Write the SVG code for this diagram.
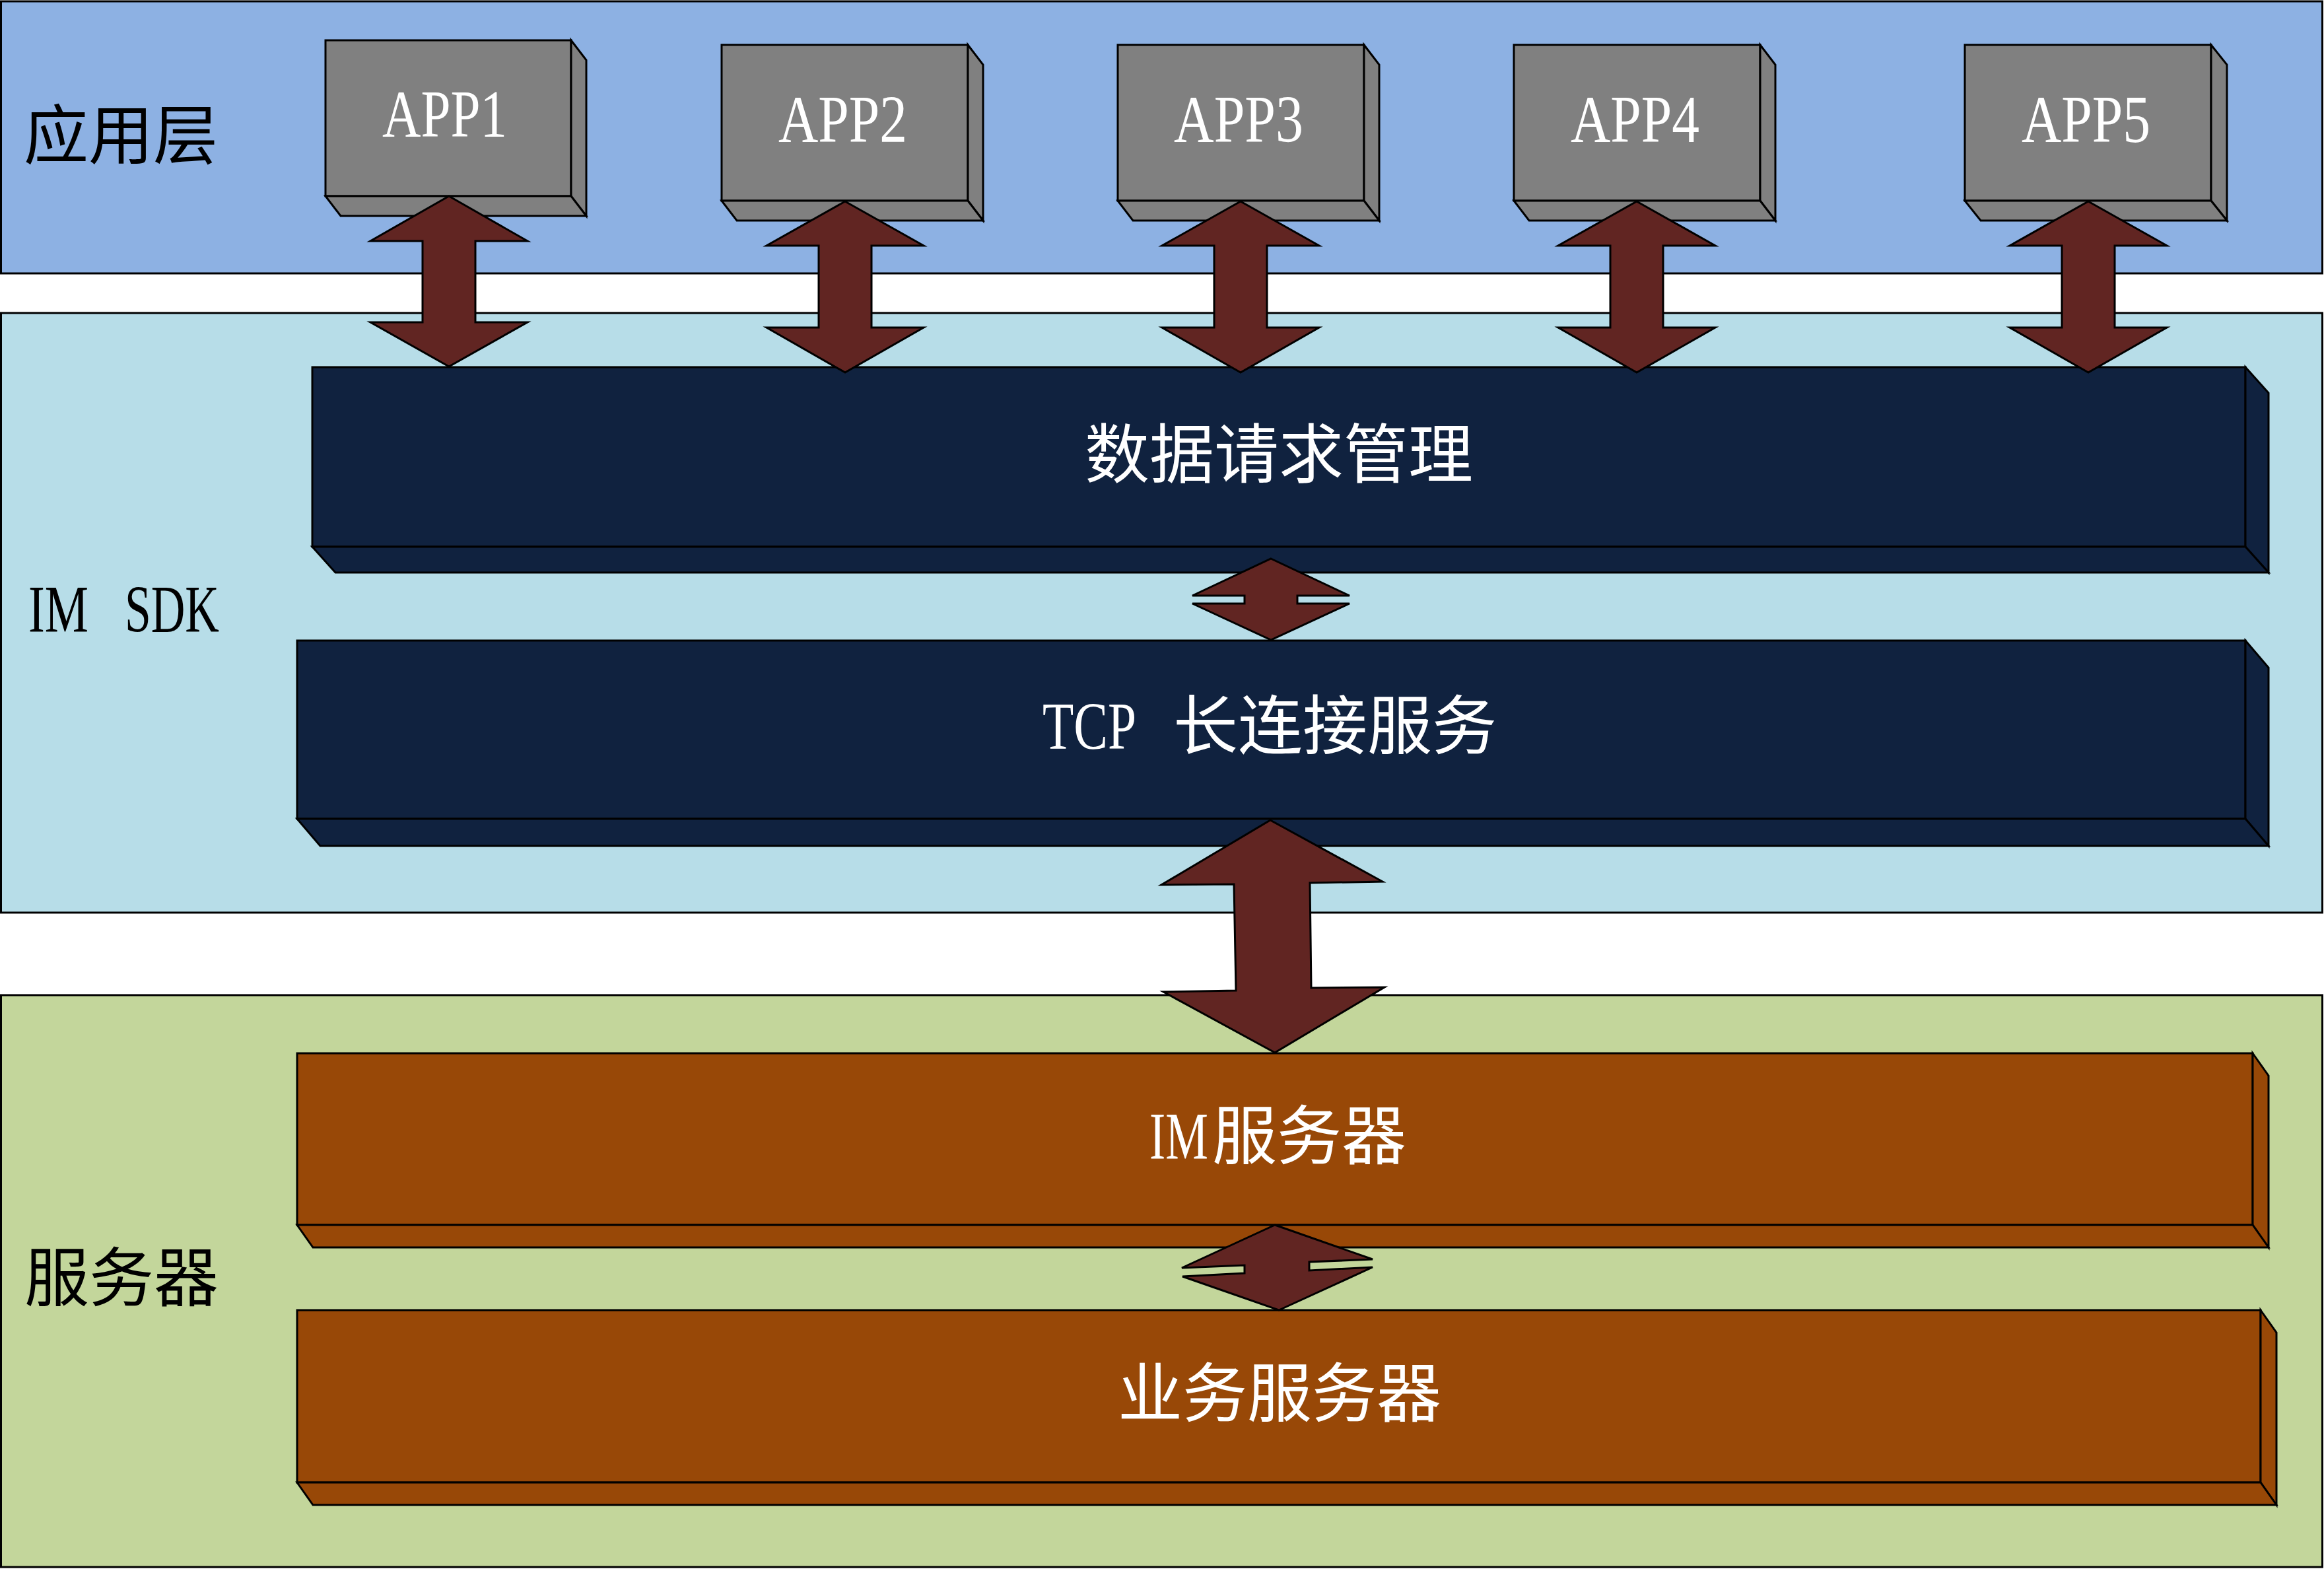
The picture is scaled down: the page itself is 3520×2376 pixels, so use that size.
<svg xmlns="http://www.w3.org/2000/svg" width="3520" height="2376" viewBox="0 0 3520 2376">
<style>
.layer{stroke:#000;stroke-width:3}
.bx{stroke:#000;stroke-width:3;stroke-linejoin:miter}
.gray{fill:#808080}
.navy{fill:#10223F}
.org{fill:#984807}
.arw{fill:#612522;stroke:#000;stroke-width:3;stroke-linejoin:miter}
.t{font-family:"Liberation Serif","Noto Sans CJK SC",serif;font-size:101px}
.c{font-family:"Noto Sans CJK SC","Liberation Serif",sans-serif;font-size:98px}
.w{fill:#fff}
.k{fill:#000}
</style>
<rect width="3520" height="2376" fill="#fff"/>
<g id="layer-app">
<rect class="layer" x="1.5" y="2" width="3516" height="412" fill="#8DB1E3"/>
<text class="c k" x="183" y="240" text-anchor="middle">应用层</text>
</g>
<g id="layer-sdk">
<rect class="layer" x="1.5" y="474" width="3516" height="908" fill="#B7DDE8"/>
<text class="t k" x="43" y="957"><tspan textLength="91" lengthAdjust="spacingAndGlyphs">IM</tspan><tspan x="189" textLength="143" lengthAdjust="spacingAndGlyphs">SDK</tspan></text>
</g>
<g id="layer-server">
<rect class="layer" x="1.5" y="1507" width="3516" height="866" fill="#C3D69B"/>
<text class="c k" x="184" y="1970" text-anchor="middle">服务器</text>
</g>
<g id="app1" class="bx gray">
<rect x="493" y="61" width="372" height="236"/>
<polygon points="865,61 888,91 888,327 865,297"/>
<polygon points="493,297 865,297 888,327 516,327"/>
<text class="t w" stroke="none" x="579" y="207" textLength="189" lengthAdjust="spacingAndGlyphs">APP1</text>
</g>
<g id="app2" class="bx gray">
<rect x="1093" y="68" width="373" height="236"/>
<polygon points="1466,68 1489,98 1489,334 1466,304"/>
<polygon points="1093,304 1466,304 1489,334 1116,334"/>
<text class="t w" stroke="none" x="1179" y="215" textLength="195" lengthAdjust="spacingAndGlyphs">APP2</text>
</g>
<g id="app3" class="bx gray">
<rect x="1693" y="68" width="373" height="236"/>
<polygon points="2066,68 2089,98 2089,334 2066,304"/>
<polygon points="1693,304 2066,304 2089,334 1716,334"/>
<text class="t w" stroke="none" x="1778" y="215" textLength="196" lengthAdjust="spacingAndGlyphs">APP3</text>
</g>
<g id="app4" class="bx gray">
<rect x="2293" y="68" width="373" height="236"/>
<polygon points="2666,68 2689,98 2689,334 2666,304"/>
<polygon points="2293,304 2666,304 2689,334 2316,334"/>
<text class="t w" stroke="none" x="2379" y="215" textLength="195" lengthAdjust="spacingAndGlyphs">APP4</text>
</g>
<g id="app5" class="bx gray">
<rect x="2976" y="68" width="373" height="236"/>
<polygon points="3349,68 3373,98 3373,334 3349,304"/>
<polygon points="2976,304 3349,304 3373,334 3000,334"/>
<text class="t w" stroke="none" x="3062" y="215" textLength="195" lengthAdjust="spacingAndGlyphs">APP5</text>
</g>
<g id="data-request" class="bx navy">
<rect x="473" y="556" width="2928" height="272"/>
<polygon points="3401,556 3436,595 3436,867 3401,828"/>
<polygon points="473,828 3401,828 3436,867 508,867"/>
<text class="c w" stroke="none" x="1937" y="723" text-anchor="middle">数据请求管理</text>
</g>
<g id="tcp" class="bx navy">
<rect x="450" y="970" width="2951" height="270"/>
<polygon points="3401,970 3436,1011 3436,1281 3401,1240"/>
<polygon points="450,1240 3401,1240 3436,1281 485,1281"/>
<text class="t w" stroke="none" x="1579" y="1134"><tspan textLength="142" lengthAdjust="spacingAndGlyphs">TCP</tspan><tspan class="c" x="1777">长连接服务</tspan></text>
</g>
<g id="im-server" class="bx org">
<rect x="450" y="1595" width="2962" height="260"/>
<polygon points="3412,1595 3436,1629 3436,1889 3412,1855"/>
<polygon points="450,1855 3412,1855 3436,1889 474,1889"/>
<text class="t w" stroke="none" transform="translate(1741,1755) scale(0.72,1)" x="0" y="0">IM</text>
<text class="c w" stroke="none" x="1836" y="1755">服务器</text>
</g>
<g id="biz-server" class="bx org">
<rect x="450" y="1984" width="2974" height="261"/>
<polygon points="3424,1984 3448,2018 3448,2279 3424,2245"/>
<polygon points="450,2245 3424,2245 3448,2279 474,2279"/>
<text class="c w" stroke="none" x="1938" y="2145" text-anchor="middle">业务服务器</text>
</g>
<g id="connectors">
<polygon class="arw" points="680,297 799,365 720,365 720,488 799,488 680,555 561,488 640,488 640,365 561,365"/>
<polygon class="arw" points="1280,305 1399,372 1320,372 1320,496 1399,496 1280,564 1161,496 1240,496 1240,372 1161,372"/>
<polygon class="arw" points="1879,305 1998,372 1919,372 1919,496 1998,496 1879,564 1760,496 1839,496 1839,372 1760,372"/>
<polygon class="arw" points="2479,305 2598,372 2519,372 2519,496 2598,496 2479,564 2360,496 2439,496 2439,372 2360,372"/>
<polygon class="arw" points="3163,305 3282,372 3203,372 3203,496 3282,496 3163,564 3044,496 3123,496 3123,372 3044,372"/>
<polygon class="arw" points="1925,846 2044,902 1965,902 1965,914 2044,914 1925,969 1806,914 1885,914 1885,902 1806,902"/>
<polygon class="arw" points="1924,1242 2094,1335 1984,1337 1986,1496 2097,1495 1931,1594 1762,1502 1872,1500 1869,1339 1759,1340"/>
<polygon class="arw" points="1931,1855 2079,1907 1983,1911 1983,1924 2079,1919 1937,1984 1791,1933 1885,1928 1885,1916 1790,1920"/>
</g>
</svg>
